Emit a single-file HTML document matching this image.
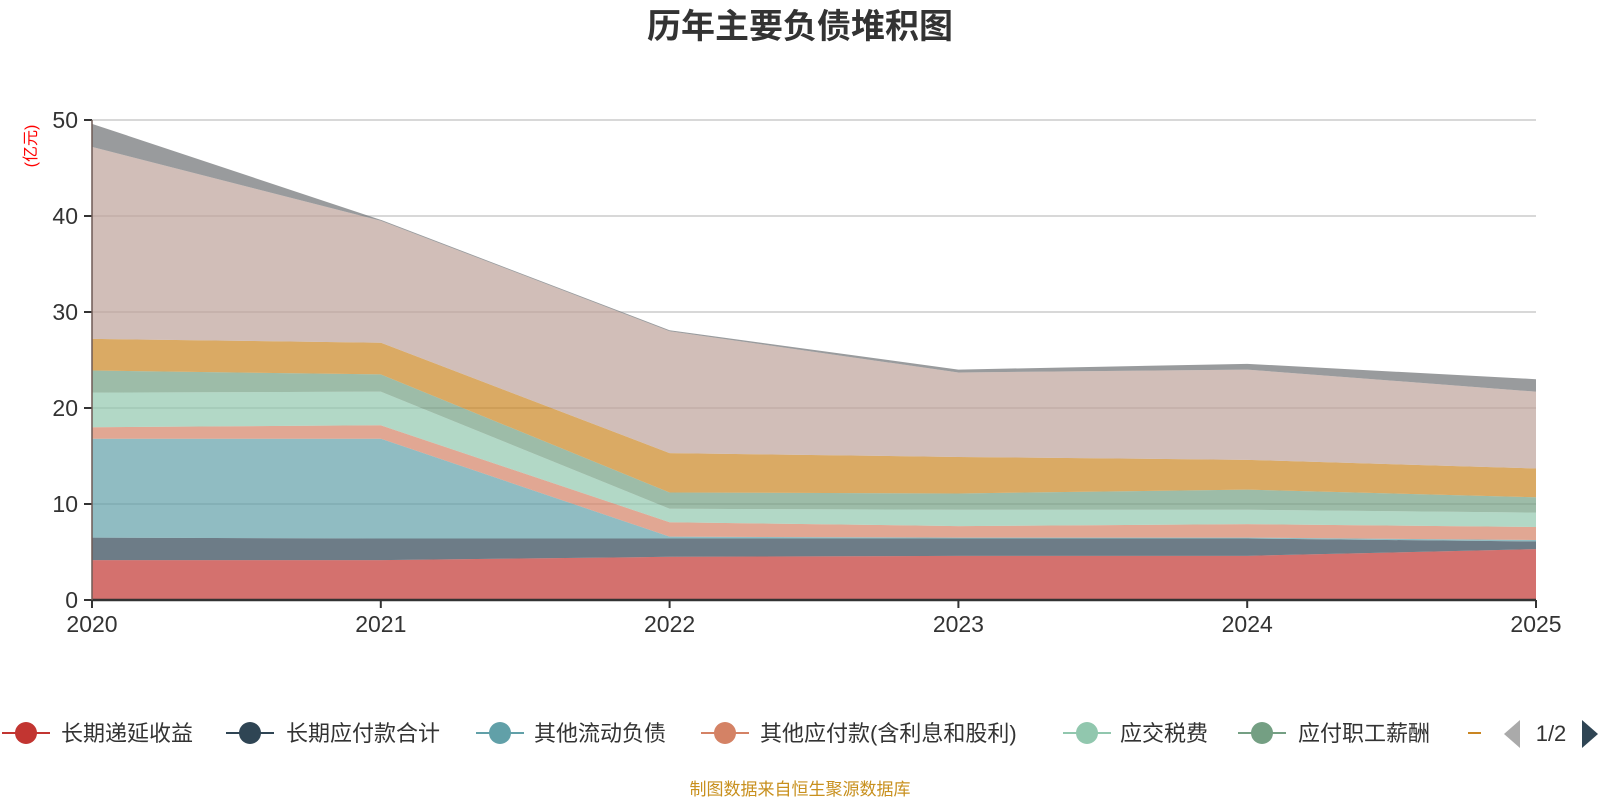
<!DOCTYPE html>
<html><head><meta charset="utf-8"><style>
body{margin:0;background:#fff;}
svg{display:block;font-family:"Liberation Sans","Noto Sans CJK SC",sans-serif;}
</style></head><body>
<svg id="c" width="1600" height="800"></svg>
<script>
const years=['2020','2021','2022','2023','2024','2025'];
const yTicks=[0,10,20,30,40,50];
const seriesNames=['长期递延收益','长期应付款合计','其他流动负债','其他应付款(含利息和股利)','应交税费','应付职工薪酬','应付票据及应付账款','短期借款','其他负债'];
const s0=[4.15,4.15,4.5,4.6,4.6,5.3];
const s1=[2.35,2.25,1.9,1.8,1.8,0.8];
const s2=[10.3,10.4,0.2,0.1,0.1,0.15];
const s3=[1.2,1.4,1.5,1.2,1.4,1.35];
const s4=[3.6,3.5,1.4,1.7,1.5,1.5];
const s5=[2.3,1.8,1.7,1.7,2.1,1.6];
const s6=[3.3,3.3,4.1,3.8,3.1,3.0];
const s7=[20.0,12.7,12.7,8.8,9.4,8.0];
const s8=[2.4,0.1,0.1,0.3,0.6,1.3];
const series=[s0,s1,s2,s3,s4,s5,s6,s7,s8];
const colors=['#c23531','#2f4554','#61a0a8','#d48265','#91c7ae','#749f83','#ca8622','#bda29a','#6e7074'];
const NS='http://www.w3.org/2000/svg';
const svg=document.getElementById('c');
function el(t,a,p){const e=document.createElementNS(NS,t);for(const k in a)e.setAttribute(k,a[k]);(p||svg).appendChild(e);return e;}
const X0=92,X1=1536,Y0=600,Ymax=50,Ytop=120;
const x=i=>X0+(X1-X0)*i/(years.length-1);
const y=v=>Y0-(Y0-Ytop)*v/Ymax;
// title
let t=el('text',{x:800,y:38,'text-anchor':'middle','font-size':34,'font-weight':'bold',fill:'#333'});t.textContent='历年主要负债堆积图';


// grid
yTicks.forEach(v=>{
 if(v>0){const g=el('line',{x1:X0,x2:X1,y1:y(v),y2:y(v),stroke:'#ccc','stroke-width':1.5});
 
 }
 const tk=el('line',{x1:X0-8,x2:X0,y1:y(v),y2:y(v),stroke:'#333','stroke-width':2});
 
 
 const l=el('text',{x:X0-14,y:y(v)+8,'text-anchor':'end','font-size':23,fill:'#333'});l.textContent=v;
 
 
});
// areas
let base=years.map(()=>0);
series.forEach((s,k)=>{
 const top=s.map((v,i)=>base[i]+v);
 let d='M'+years.map((_,i)=>x(i)+','+y(top[i])).join(' L');
 for(let i=years.length-1;i>=0;i--)d+=' L'+x(i)+','+y(base[i]);
 d+='Z';
 const p=el('path',{d:d,fill:colors[k],'fill-opacity':0.7,stroke:'none'});
 
 
 base=top;
});
// axes
let ax=el('line',{x1:X0,x2:X1,y1:Y0,y2:Y0,stroke:'#333','stroke-width':2.5});


let ay=el('line',{x1:X0,x2:X0,y1:Ytop,y2:Y0,stroke:'#6e5a55','stroke-width':1.5});


years.forEach((yr,i)=>{
 const tk=el('line',{x1:x(i),x2:x(i),y1:Y0,y2:Y0+8,stroke:'#333','stroke-width':2});
 
 
 const l=el('text',{x:x(i),y:Y0+32,'text-anchor':'middle','font-size':23,fill:'#333'});l.textContent=yr;
 
 
});
let u=el('text',{x:0,y:0,'font-size':16,fill:'#f00','text-anchor':'middle',transform:'translate(36,146) rotate(-90)'});u.textContent='(亿元)';


// legend
const lg=el('g',{});


const lx=[26,250,500,725,1087,1262,1492];
const tx=[61,286,534,760,1120,1298,1527];
for(let k=0;k<7;k++){
 const g=el('g',{},lg);
 
 
 el('line',{x1:lx[k]-24,x2:lx[k]+24,y1:733,y2:733,stroke:colors[k],'stroke-width':2},g);
 el('circle',{cx:lx[k],cy:733,r:11,fill:colors[k]},g);
 const tt=el('text',{x:tx[k],y:741,'font-size':22,fill:'#333'},g);tt.textContent=seriesNames[k];
}
let cover=el('rect',{x:1481,y:700,width:119,height:70,fill:'#fff'});


let pl=el('path',{d:'M1520,720 L1504,734 L1520,748Z',fill:'#aaa'});


let pg=el('text',{x:1551,y:741,'text-anchor':'middle','font-size':22,fill:'#333'});pg.textContent='1/2';


let pn=el('path',{d:'M1582,720 L1598,734 L1582,748Z',fill:'#2f4554'});


let f=el('text',{x:800,y:795,'text-anchor':'middle','font-size':17,fill:'#c8901e'});f.textContent='制图数据来自恒生聚源数据库';


</script>
</body></html>
